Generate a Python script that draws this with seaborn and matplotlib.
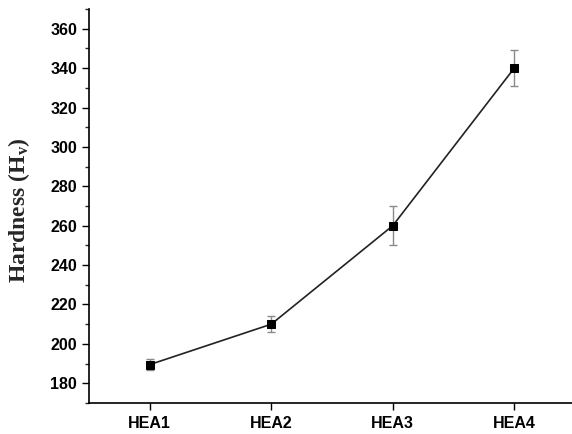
import matplotlib
matplotlib.use("Agg")
import matplotlib.pyplot as plt
import seaborn as sns
import numpy as np
import pandas as pd
from matplotlib.ticker import MultipleLocator

categories = ["HEA1", "HEA2", "HEA3", "HEA4"]
hardness = [189.5, 210, 260, 340]
errors = [3, 4, 10, 9]

sns.set_style("ticks")
plt.rcParams['font.family'] = ['Liberation Sans', 'DejaVu Sans']
plt.rcParams['mathtext.fontset'] = 'custom'
plt.rcParams['mathtext.rm'] = 'Liberation Serif:bold'
plt.rcParams['mathtext.bf'] = 'Liberation Serif:bold'
plt.rcParams['mathtext.it'] = 'Liberation Serif:bold'

fig = plt.figure(figsize=(5.72, 4.34), dpi=100)
ax = fig.add_axes([89/572, 31/434, (575-89)/572, (403-9)/434])

df = pd.DataFrame({"pos": np.arange(len(categories)), "hardness": hardness})
ax.errorbar(df["pos"], df["hardness"], yerr=errors, fmt="none",
            ecolor="#8a8a8a", elinewidth=1.0, capsize=3, capthick=1.0, zorder=2)
sns.lineplot(data=df, x="pos", y="hardness", ax=ax, color="#222222",
             linewidth=1.2, marker="s", markersize=6.3, markerfacecolor="black",
             markeredgecolor="black", zorder=3)

ax.set_xlim(-0.5, 3.5)
ax.set_ylim(170, 370)
ax.set_xticks(range(len(categories)))
ax.set_xticklabels(categories, fontsize=11.5, fontweight="bold")
ax.yaxis.set_major_locator(MultipleLocator(20))
ax.yaxis.set_minor_locator(MultipleLocator(10))
ax.set_yticks(np.arange(180, 361, 20))
for lab in ax.get_yticklabels():
    lab.set_fontsize(11.5)
    lab.set_fontweight("bold")
ax.tick_params(axis="both", which="major", length=5, width=1, direction="out", pad=3.5, colors="black")
ax.tick_params(axis="x", which="major", pad=4.5)
ax.tick_params(axis="y", which="minor", length=3, width=1, direction="out")
ax.set_xlabel("")
ax.set_ylabel(r"Hardness (H$_\mathrm{v}$)", fontsize=17, fontweight="bold",
              family=["Liberation Serif"])
ax.yaxis.set_label_coords(-0.117, 0.49)
sns.despine(ax=ax)
for s in ["left", "bottom"]:
    ax.spines[s].set_linewidth(1.2)
    ax.spines[s].set_color("black")

fig.savefig("out.png", dpi=100)
